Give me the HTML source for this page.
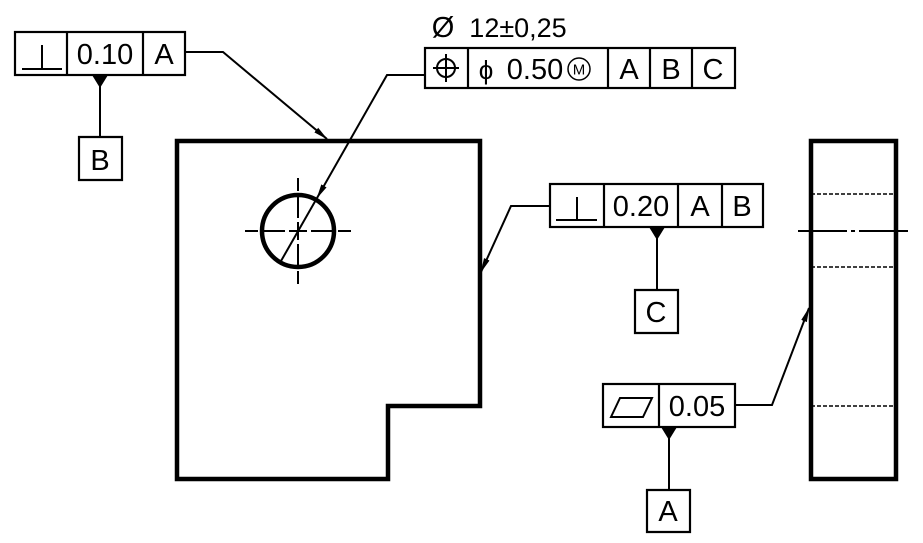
<!DOCTYPE html>
<html><head><meta charset="utf-8"><style>
html,body{margin:0;padding:0;background:#fff;}
svg{display:block;}
svg text{font-family:"Liberation Sans",sans-serif;font-size:29px;fill:#000;text-anchor:middle;}
</style></head><body>
<svg width="923" height="543" viewBox="0 0 923 543" xmlns="http://www.w3.org/2000/svg">
<defs>
<marker id="ar" markerWidth="15" markerHeight="8" refX="14" refY="4" orient="auto" markerUnits="userSpaceOnUse">
<path d="M0,1 L15,4 L0,7 Z" fill="#000"/></marker>
</defs>
<g fill="none" stroke="#000">
<path d="M177,141 H480 V406 H388 V479 H177 Z" stroke-width="4.5"/>
<circle cx="298" cy="231" r="36" stroke-width="4.5"/>
<g stroke-width="2">
<path d="M245,231 H258 M264,231 H285 M289,231 H307 M311,231 H332 M338,231 H351"/>
<path d="M298,178 V191 M298,197 V218 M298,222 V240 M298,244 V265 M298,271 V284"/>
</g>
<path d="M811,141 H896 V479 H811 Z" stroke-width="4.5"/>
<g stroke-width="1.5" stroke-dasharray="4,2">
<path d="M811,194 H896 M811,267 H896 M811,406 H896"/>
</g>
<path d="M798,231 H847 M851,231 H855 M859,231 H908" stroke-width="2"/>
<g stroke-width="2.2">
<rect x="15" y="32" width="170" height="43"/>
<path d="M67,32 V75 M143,32 V75"/>
<path d="M79,137 H122 V180 H79 Z"/>
</g>
<path d="M22,69 H62 M42,45 V69" stroke-width="2"/>
<path d="M100,86 V137" stroke-width="2"/>
<path d="M185,52 H223 L327,139" stroke-width="2" marker-end="url(#ar)"/>
<g stroke-width="2.2">
<rect x="425" y="48" width="310" height="40"/>
<path d="M468,48 V88 M608,48 V88 M650,48 V88 M692,48 V88"/>
</g>
<circle cx="446" cy="68" r="9" stroke-width="2"/>
<path d="M433,68 H459 M446,54 V82" stroke-width="2"/>
<circle cx="579" cy="69" r="11" stroke-width="1.5"/>
<path d="M425,75 H387 L317,198" stroke-width="2" marker-end="url(#ar)"/>
<path d="M317,198 L281,261" stroke-width="2"/>
<g stroke-width="2.2">
<rect x="550" y="184" width="213" height="43"/>
<path d="M604,184 V227 M678,184 V227 M722,184 V227"/>
<path d="M635,290 H678 V333 H635 Z"/>
</g>
<path d="M556,220 H597 M577,197 V220" stroke-width="2"/>
<path d="M657,238 V290" stroke-width="2"/>
<path d="M550,206 H511 L481,272" stroke-width="2" marker-end="url(#ar)"/>
<g stroke-width="2.2">
<rect x="603" y="384" width="132" height="43"/>
<path d="M659,384 V427"/>
<path d="M647,490 H690 V532 H647 Z"/>
</g>
<path d="M611,417 L620,398 H652 L643,417 Z" stroke-width="2"/>
<path d="M669,438 V490" stroke-width="2"/>
<path d="M735,405 H772 L809,308" stroke-width="2" marker-end="url(#ar)"/>
</g>
<g fill="#000">
<path d="M92,75 H108 L100,88 Z"/>
<path d="M649,227 H665 L657,240 Z"/>
<path d="M661,427 H677 L669,440 Z"/>
</g>
<text x="105" y="64">0.10</text>
<text x="164" y="64">A</text>
<text x="100" y="170">B</text>
<text x="443" y="37">Ø</text>
<text x="518" y="37" style="font-size:27px">12±0,25</text>
<text x="486" y="79" style="font-size:26px">ϕ</text>
<text x="535" y="79">0.50</text>
<text x="579" y="74.5" style="font-size:15px">M</text>
<text x="629" y="79">A</text>
<text x="671" y="79">B</text>
<text x="713" y="79">C</text>
<text x="641" y="216">0.20</text>
<text x="700" y="216">A</text>
<text x="742" y="216">B</text>
<text x="656" y="322">C</text>
<text x="697" y="416">0.05</text>
<text x="668" y="521">A</text>
</svg>
</body></html>
